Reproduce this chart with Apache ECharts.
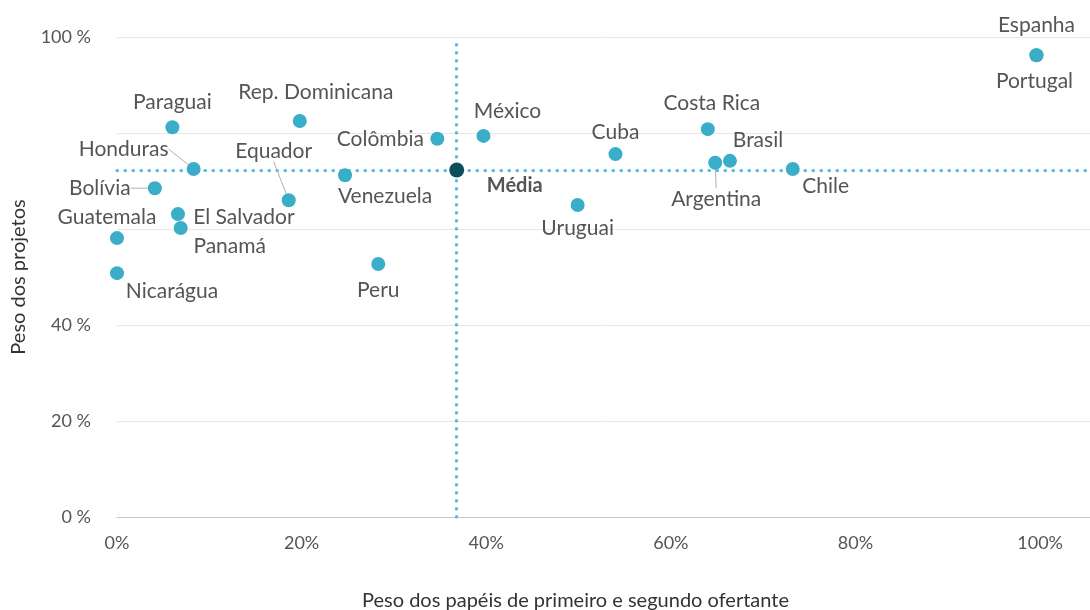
<!DOCTYPE html>
<html style="height: 100%;">
<head>
  <meta charset="utf-8">
  <title>Peso dos projetos x papéis de ofertante</title>
  <script type="text/javascript" src="https://cdn.jsdelivr.net/npm/echarts@6/dist/echarts.min.js"></script>
</head>
<body style="height: 100%; margin: 0">
  <div id="container" style="width: 1090px; height: 610px"></div>
  <script type="text/javascript">
    // dados (em %)
    var paises = ['Espanha', 'Portugal', 'Paraguai', 'Rep. Dominicana', 'Colômbia', 'México',
      'Costa Rica', 'Cuba', 'Brasil', 'Argentina', 'Chile', 'Honduras', 'Venezuela', 'Bolívia',
      'Equador', 'Uruguai', 'El Salvador', 'Panamá', 'Guatemala', 'Nicarágua', 'Peru'];
    var pesoPapeis = [99.6, 99.6, 6.0, 19.8, 34.7, 39.7, 64.0, 54.0, 66.4, 64.8, 73.2, 8.3, 24.7, 4.1,
      18.6, 49.9, 6.6, 6.9, 0, 0, 28.3];
    var pesoProjetos = [96.2, 96.2, 81.2, 82.5, 78.8, 79.4, 80.8, 75.6, 74.2, 73.8, 72.5, 72.5, 71.2, 68.5,
      66.0, 65.0, 63.1, 60.2, 58.1, 50.8, 52.7];
    var mediaX = 36.8;
    var mediaY = 72.3;
    var ticksX = [0, 20, 40, 60, 80, 100];
    var ticksY = [0, 20, 40, 100];

    // deslocamento das etiquetas em relação ao ponto (px)
    var etiqueta = {
      'Espanha': [0, -30], 'Portugal': [-2, 26], 'Paraguai': [0, -25], 'Rep. Dominicana': [16, -29],
      'Colômbia': [-57, 0], 'México': [24, -25], 'Costa Rica': [4, -26], 'Cuba': [0, -22],
      'Brasil': [28, -21], 'Argentina': [1, 36], 'Chile': [33, 17], 'Honduras': [-70, -20],
      'Venezuela': [40, 21], 'Bolívia': [-55, 0], 'Equador': [-15, -49], 'Uruguai': [0, 23],
      'El Salvador': [66, 3], 'Panamá': [49, 18], 'Guatemala': [-10, -21], 'Nicarágua': [55, 18],
      'Peru': [0, 26]
    };
    var comLinha = ['Honduras', 'Bolívia', 'Equador', 'Argentina'];

    var pontos = [];
    for (var i = 0; i < paises.length; i++) {
      pontos.push({
        name: paises[i],
        value: [pesoPapeis[i], pesoProjetos[i]],
        labelLine: { show: comLinha.indexOf(paises[i]) > -1 }
      });
    }

    var dom = document.getElementById('container');
    var myChart = echarts.init(dom);
    var fonte = 'Lato, "Open Sans", sans-serif';

    var option = {
      animation: false,
      textStyle: { fontFamily: fonte },
      grid: { left: 117, right: 0, top: 37, bottom: 93, outerBoundsMode: 'none', containLabel: false },
      xAxis: {
        type: 'value',
        min: 0,
        max: 105.4,
        interval: 20,
        name: 'Peso dos papéis de primeiro e segundo ofertante',
        nameLocation: 'middle',
        nameGap: 74,
        nameTextStyle: { fontSize: 20, color: '#333', padding: [0, 56, 0, 0] },
        axisLine: { show: true, lineStyle: { color: '#c8c8c8' } },
        axisTick: { show: false },
        splitLine: { show: false },
        axisLabel: {
          fontSize: 18, color: '#555', margin: 17,
          formatter: function (v) { return ticksX.indexOf(v) > -1 ? v + '%' : ''; }
        }
      },
      yAxis: {
        type: 'value',
        min: 0,
        max: 100,
        interval: 20,
        name: 'Peso dos projetos',
        nameLocation: 'middle',
        nameGap: 88,
        nameTextStyle: { fontSize: 20, color: '#333' },
        axisLine: { show: false },
        axisTick: { show: false },
        splitLine: { lineStyle: { color: '#e8e8e8' } },
        axisLabel: {
          fontSize: 18, color: '#555', margin: 26,
          formatter: function (v) { return ticksY.indexOf(v) > -1 ? v + ' %' : ''; }
        }
      },
      series: [
        {
          type: 'scatter',
          symbolSize: 14,
          itemStyle: { color: '#3aaec8', opacity: 1 },
          label: {
            show: true,
            position: 'inside',
            formatter: '{b}',
            fontSize: 21,
            color: '#555',
            fontFamily: fonte
          },
          labelLayout: function (params) {
            var d = etiqueta[paises[params.dataIndex]];
            return { dx: d[0], dy: d[1] };
          },
          labelLine: { lineStyle: { color: '#b0b0b0', width: 1 } },
          data: pontos,
          markLine: {
            silent: true,
            z: 1,
            symbol: 'none',
            label: { show: false },
            lineStyle: { color: '#4dbfe0', type: [0.5, 7.5], width: 3.2, cap: 'round' },
            data: [{ xAxis: mediaX }, { yAxis: mediaY }]
          },
          z: 3
        },
        {
          type: 'scatter',
          symbolSize: 15,
          itemStyle: { color: '#0b4f5c', opacity: 1 },
          label: {
            show: true,
            position: 'inside',
            offset: [58, 16],
            formatter: 'Média',
            fontSize: 20,
            fontWeight: 'bold',
            color: '#555',
            fontFamily: fonte
          },
          data: [[mediaX, mediaY]],
          z: 6
        }
      ]
    };
    myChart.setOption(option);
    window.onresize = function () {
      myChart.resize();
    };
  </script>
</body>
</html>
